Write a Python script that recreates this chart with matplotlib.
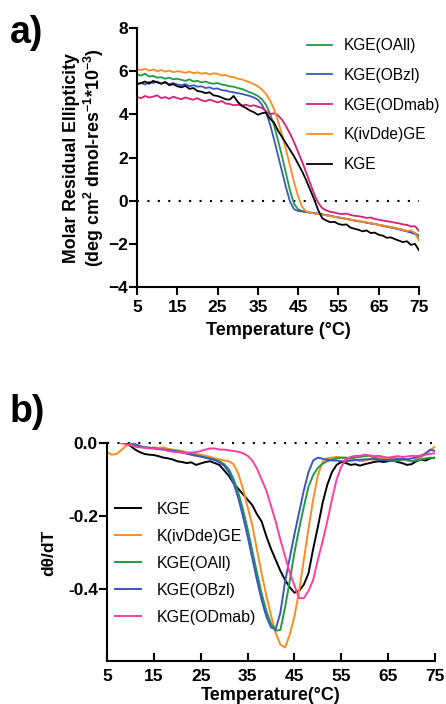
import numpy as np
import matplotlib
matplotlib.use("Agg")
import matplotlib.pyplot as plt

plt.rcParams['font.family'] = ['Liberation Sans', 'DejaVu Sans']
plt.rcParams['mathtext.fontset'] = 'custom'
plt.rcParams['mathtext.rm'] = 'Liberation Sans:bold'
plt.rcParams['mathtext.it'] = 'Liberation Sans:bold'
plt.rcParams['mathtext.default'] = 'rm'

# temperature grid (1 degC steps, 5..75)
temp = list(range(5, 76))

# ---- panel a: molar residual ellipticity (x10^-3) ----
mre_oall = [5.85, 5.80, 5.88, 5.75, 5.78, 5.70, 5.72, 5.65, 5.70, 5.62,
            5.65, 5.60, 5.55, 5.62, 5.52, 5.55, 5.48, 5.52, 5.45, 5.42,
            5.45, 5.38, 5.35, 5.30, 5.28, 5.22, 5.18, 5.10, 5.02, 4.95,
            4.85, 4.70, 4.45, 4.05, 3.50, 2.80, 2.05, 1.25, 0.45, -0.15,
            -0.40, -0.48, -0.52, -0.55, -0.58, -0.62, -0.63, -0.68, -0.70, -0.75,
            -0.78, -0.80, -0.85, -0.88, -0.92, -0.95, -0.98, -1.02, -1.05, -1.08,
            -1.12, -1.15, -1.20, -1.22, -1.28, -1.32, -1.35, -1.42, -1.45, -1.50,
            -1.62]
mre_obzl = [5.40, 5.45, 5.38, 5.50, 5.45, 5.52, 5.42, 5.48, 5.40, 5.45,
            5.38, 5.35, 5.40, 5.30, 5.35, 5.28, 5.30, 5.22, 5.25, 5.18,
            5.20, 5.12, 5.10, 5.05, 5.02, 4.98, 4.95, 4.90, 4.85, 4.78,
            4.68, 4.45, 4.10, 3.55, 2.85, 2.10, 1.35, 0.60, -0.05, -0.40,
            -0.48, -0.50, -0.53, -0.56, -0.58, -0.60, -0.65, -0.66, -0.70, -0.74,
            -0.78, -0.82, -0.84, -0.88, -0.92, -0.96, -0.98, -1.02, -1.06, -1.08,
            -1.12, -1.18, -1.20, -1.25, -1.28, -1.32, -1.38, -1.42, -1.48, -1.55,
            -1.72]
mre_odmab = [4.80, 4.75, 4.85, 4.78, 4.82, 4.88, 4.75, 4.80, 4.72, 4.82,
             4.75, 4.70, 4.78, 4.72, 4.68, 4.75, 4.65, 4.60, 4.68, 4.62,
             4.55, 4.62, 4.50, 4.48, 4.42, 4.45, 4.40, 4.45, 4.38, 4.42,
             4.35, 4.30, 4.15, 4.00, 4.05, 3.95, 3.75, 3.45, 3.10, 2.70,
             2.25, 1.80, 1.30, 0.80, 0.30, -0.10, -0.35, -0.45, -0.52, -0.55,
             -0.60, -0.62, -0.60, -0.66, -0.70, -0.72, -0.75, -0.80, -0.78, -0.85,
             -0.88, -0.92, -0.95, -0.98, -1.02, -1.05, -1.10, -1.12, -1.20, -1.18,
             -1.40]
mre_ivdde = [6.10, 6.05, 6.12, 6.02, 6.08, 6.00, 6.05, 5.98, 6.03, 5.95,
             6.00, 5.97, 5.92, 5.98, 5.90, 5.95, 5.88, 5.92, 5.85, 5.90,
             5.88, 5.80, 5.82, 5.75, 5.72, 5.65, 5.62, 5.55, 5.48, 5.40,
             5.30, 5.15, 4.95, 4.65, 4.25, 3.70, 3.05, 2.35, 1.60, 0.85,
             0.20, -0.30, -0.50, -0.55, -0.60, -0.62, -0.66, -0.68, -0.72, -0.75,
             -0.78, -0.80, -0.86, -0.88, -0.90, -0.95, -0.98, -1.00, -1.05, -1.08,
             -1.12, -1.15, -1.18, -1.22, -1.25, -1.30, -1.35, -1.40, -1.38, -1.50,
             -1.85]
mre_kge = [5.40, 5.45, 5.52, 5.42, 5.55, 5.48, 5.42, 5.50, 5.35, 5.40,
           5.30, 5.25, 5.32, 5.18, 5.22, 5.08, 5.05, 4.98, 5.02, 4.88,
           4.85, 4.78, 4.70, 4.68, 4.85, 4.58, 4.40, 4.30, 4.18, 4.10,
           3.98, 4.05, 4.08, 3.80, 3.62, 3.25, 2.95, 2.65, 2.35, 2.05,
           1.70, 1.35, 0.95, 0.50, 0.05, -0.45, -0.82, -0.92, -1.00, -0.98,
           -1.08, -1.12, -1.10, -1.25, -1.30, -1.35, -1.42, -1.38, -1.50, -1.48,
           -1.58, -1.62, -1.72, -1.70, -1.78, -1.85, -1.92, -1.88, -2.05, -2.00,
           -2.30]

# ---- panel b: first derivative dtheta/dT ----
nan = np.nan
d_kge = [nan, nan, nan, nan, 0.000, -0.008, -0.018, -0.025, -0.030, -0.032,
         -0.033, -0.036, -0.040, -0.042, -0.045, -0.050, -0.052, -0.055, -0.053, -0.060,
         -0.056, -0.052, -0.050, -0.055, -0.060, -0.075, -0.090, -0.110, -0.125, -0.140,
         -0.155, -0.170, -0.195, -0.215, -0.255, -0.290, -0.320, -0.350, -0.375, -0.395,
         -0.410, -0.405, -0.388, -0.357, -0.290, -0.230, -0.165, -0.115, -0.080, -0.060,
         -0.052, -0.055, -0.060, -0.058, -0.062, -0.058, -0.055, -0.052, -0.050, -0.052,
         -0.050, -0.048, -0.052, -0.055, -0.060, -0.058, -0.050, -0.045, -0.048, -0.042,
         -0.040]
d_ivdde = [-0.025, -0.032, -0.030, -0.020, -0.008, -0.002, -0.006, -0.010, -0.012, -0.014,
           -0.012, -0.014, -0.012, -0.016, -0.018, -0.020, -0.022, -0.025, -0.028, -0.030,
           -0.032, -0.035, -0.038, -0.042, -0.045, -0.048, -0.050, -0.058, -0.083, -0.125,
           -0.175, -0.225, -0.292, -0.357, -0.418, -0.472, -0.520, -0.552, -0.560, -0.525,
           -0.475, -0.405, -0.320, -0.235, -0.155, -0.088, -0.052, -0.042, -0.040, -0.038,
           -0.040, -0.045, -0.048, -0.045, -0.050, -0.048, -0.045, -0.042, -0.040, -0.042,
           -0.045, -0.040, -0.042, -0.045, -0.048, -0.050, -0.045, -0.040, -0.030, -0.020,
           -0.010]
d_oall = [nan, nan, nan, nan, nan, 0.000, -0.005, -0.010, -0.012, -0.013,
          -0.014, -0.016, -0.017, -0.019, -0.021, -0.022, -0.025, -0.028, -0.031, -0.034,
          -0.037, -0.040, -0.043, -0.046, -0.050, -0.058, -0.072, -0.098, -0.135, -0.182,
          -0.235, -0.295, -0.355, -0.412, -0.460, -0.495, -0.514, -0.512, -0.450, -0.378,
          -0.300, -0.235, -0.175, -0.120, -0.088, -0.068, -0.057, -0.050, -0.045, -0.042,
          -0.040, -0.040, -0.042, -0.040, -0.038, -0.036, -0.035, -0.040, -0.045, -0.046,
          -0.048, -0.050, -0.048, -0.046, -0.045, -0.050, -0.048, -0.045, -0.042, -0.040,
          -0.042]
d_obzl = [nan, nan, nan, nan, nan, nan, -0.003, -0.008, -0.012, -0.013,
          -0.015, -0.017, -0.018, -0.020, -0.022, -0.024, -0.026, -0.029, -0.032, -0.035,
          -0.037, -0.040, -0.043, -0.047, -0.053, -0.062, -0.080, -0.110, -0.150, -0.200,
          -0.255, -0.315, -0.375, -0.430, -0.475, -0.505, -0.510, -0.465, -0.380, -0.315,
          -0.250, -0.190, -0.130, -0.080, -0.048, -0.040, -0.043, -0.046, -0.048, -0.048,
          -0.050, -0.050, -0.048, -0.047, -0.046, -0.045, -0.044, -0.045, -0.046, -0.047,
          -0.046, -0.045, -0.044, -0.043, -0.045, -0.042, -0.040, -0.035, -0.028, -0.018,
          -0.022]
d_odmab = [nan, nan, nan, 0.000, -0.003, -0.006, -0.010, -0.012, -0.013, -0.015,
           -0.015, -0.016, -0.018, -0.022, -0.024, -0.025, -0.026, -0.028, -0.026, -0.025,
           -0.022, -0.018, -0.015, -0.015, -0.018, -0.018, -0.020, -0.022, -0.024, -0.028,
           -0.035, -0.048, -0.070, -0.100, -0.130, -0.172, -0.215, -0.265, -0.310, -0.355,
           -0.390, -0.425, -0.425, -0.405, -0.375, -0.320, -0.270, -0.215, -0.155, -0.100,
           -0.065, -0.045, -0.038, -0.035, -0.035, -0.032, -0.034, -0.036, -0.035, -0.038,
           -0.040, -0.038, -0.036, -0.038, -0.037, -0.035, -0.036, -0.034, -0.032, -0.030,
           -0.028]

green = '#1f9a45'
blue = '#3b55c2'
magenta = '#d81e78'
pink = '#ff3d9e'
orange = '#ff8a1e'
black = '#000000'

xticks = [5, 15, 25, 35, 45, 55, 65, 75]

fig = plt.figure(figsize=(4.46, 7.04), dpi=100)

# ---------- panel a ----------
ax1 = fig.add_axes([137 / 446, 1 - 287 / 704, 282 / 446, 259 / 704])
ax1.plot(temp, mre_oall, color=green, lw=1.3, label='KGE(OAll)')
ax1.plot(temp, mre_obzl, color=blue, lw=1.3, label='KGE(OBzl)')
ax1.plot(temp, mre_odmab, color=magenta, lw=1.3, label='KGE(ODmab)')
ax1.plot(temp, mre_ivdde, color=orange, lw=1.3, label='K(ivDde)GE')
ax1.plot(temp, mre_kge, color=black, lw=1.3, label='KGE')
ax1.plot([5, 75], [0, 0], color='black', ls=(0, (1, 4)), lw=1.5, zorder=0)
ax1.set_xlim(5, 75)
ax1.set_ylim(-4, 8)
ax1.set_xticks(xticks)
ax1.set_yticks([-4, -2, 0, 2, 4, 6, 8])
ax1.set_xlabel('Temperature (°C)', fontsize=13, fontweight='bold', labelpad=5)
for s in ['top', 'right']:
    ax1.spines[s].set_visible(False)
for s in ['left', 'bottom']:
    ax1.spines[s].set_linewidth(1.5)
ax1.tick_params(width=1.5, length=5.5, labelsize=12.5, direction='out')
ax1.tick_params(axis='x', pad=4)
ax1.tick_params(axis='y', pad=1)
for lab in ax1.get_xticklabels() + ax1.get_yticklabels():
    lab.set_fontweight('bold')
fig.text(71 / 446, 1 - 158 / 704, 'Molar Residual Ellipticity', rotation=90,
         ha='center', va='center', fontsize=12.8, fontweight='bold')
fig.text(94 / 446, 1 - 158 / 704, '(deg cm$^{2}$ dmol-res$^{-1}$*10$^{-3}$)', rotation=90,
         ha='center', va='center', fontsize=12.8, fontweight='bold')
ax1.legend(loc='upper left', bbox_to_anchor=(307 / 446, 1 - 38 / 704),
           bbox_transform=fig.transFigure, frameon=False, fontsize=11.2,
           handlelength=1.6, handletextpad=0.75, labelspacing=0.95,
           borderpad=0, borderaxespad=0)
fig.text(10 / 446, 1 - 33 / 704, 'a)', fontsize=27, fontweight='bold', va='center', ha='left')

# ---------- panel b ----------
ax2 = fig.add_axes([107 / 446, 1 - 661 / 704, 328 / 446, 218 / 704])
ax2.plot(temp, d_kge, color=black, lw=1.4, label='KGE')
ax2.plot(temp, d_ivdde, color=orange, lw=1.4, label='K(ivDde)GE')
ax2.plot(temp, d_oall, color=green, lw=1.4, label='KGE(OAll)')
ax2.plot(temp, d_obzl, color=blue, lw=1.4, label='KGE(OBzl)')
ax2.plot(temp, d_odmab, color=pink, lw=1.4, label='KGE(ODmab)')
ax2.plot([5, 75], [0, 0], color='black', ls=(0, (1, 4)), lw=1.5, zorder=0, clip_on=False)
ax2.set_xlim(5, 75)
ax2.set_ylim(-0.597, 0.0)
ax2.set_xticks(xticks)
ax2.set_yticks([-0.4, -0.2, 0.0])
ax2.set_yticklabels(['-0.4', '-0.2', '0.0'])
ax2.set_xlabel('Temperature(°C)', fontsize=13, fontweight='bold', labelpad=2)
for s in ['top', 'right']:
    ax2.spines[s].set_visible(False)
for s in ['left', 'bottom']:
    ax2.spines[s].set_linewidth(1.5)
ax2.tick_params(width=1.5, length=5.5, labelsize=12.5)
ax2.tick_params(axis='x', direction='in', pad=6)
ax2.tick_params(axis='y', direction='out', pad=1)
for lab in ax2.get_xticklabels() + ax2.get_yticklabels():
    lab.set_fontweight('bold')
fig.text(49 / 446, 1 - 553 / 704, 'dθ/dT', rotation=90, ha='center', va='center',
         fontsize=12.5, fontweight='bold')
ax2.legend(loc='upper left', bbox_to_anchor=(115 / 446, 1 - 502 / 704),
           bbox_transform=fig.transFigure, frameon=False, fontsize=11.5,
           handlelength=1.6, handletextpad=1.0, labelspacing=0.75,
           borderpad=0, borderaxespad=0)
fig.text(10 / 446, 1 - 412 / 704, 'b)', fontsize=27, fontweight='bold', va='center', ha='left')

fig.savefig('out.png', dpi=100)
